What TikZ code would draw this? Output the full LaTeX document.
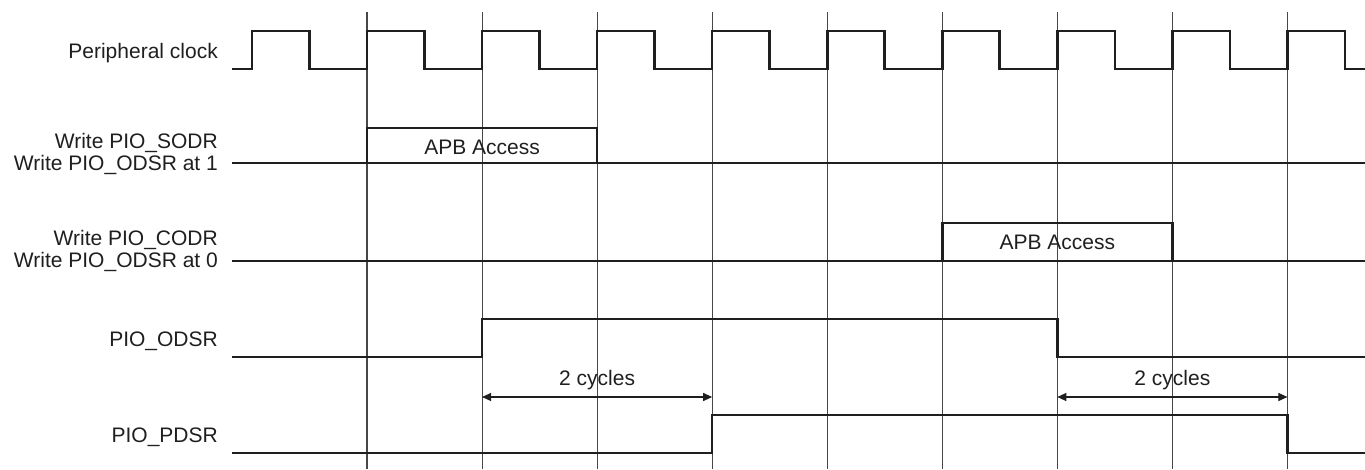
\documentclass[tikz,border=0pt]{standalone}
\usepackage{fontspec}
\setmainfont{Liberation Sans}
\usetikzlibrary{arrows.meta}
\begin{document}
\begin{tikzpicture}[x=1pt,y=-1pt,
  sig/.style={line width=2.6pt,color=black!88,line join=miter},
  grid/.style={line width=1.1pt,color=black!72},
  lbl/.style={anchor=east,inner sep=0pt,font=\fontsize{21}{25}\selectfont,text=black!88},
  txt/.style={inner sep=0pt,font=\fontsize{21}{25}\selectfont,text=black!88},
  dim/.style={line width=1.1pt,color=black!88,{Triangle[length=9pt,width=8pt]}-{Triangle[length=9pt,width=8pt]}}]
\useasboundingbox (0,0) rectangle (1365,469);
\def\P{115.05}
% grid lines
\foreach \k in {0,...,8}{
  \draw[grid] ({367+\k*\P},12) -- ({367+\k*\P},469);
}
% labels
\node[lbl] (lclk) at (218,53) {Peripheral clock};
\node[lbl] (lsodr) at (218,143) {Write PIO\_SODR};
\node[lbl] (lsodr1) at (218,165) {Write PIO\_ODSR at 1};
\node[lbl] (lcodr) at (218,240) {Write PIO\_CODR};
\node[lbl] (lcodr0) at (218,262) {Write PIO\_ODSR at 0};
\node[lbl] (lodsr) at (218,341) {PIO\_ODSR};
\node[lbl] (lpdsr) at (218,437) {PIO\_PDSR};
% clock
\draw[sig] (232,69)
  \foreach \k in {-1,...,7}{
    -- ({367+\k*\P},69) -- ({367+\k*\P},31) -- ({367+\k*\P+57.5},31) -- ({367+\k*\P+57.5},69)
  } -- ({367+8*\P},69) -- ({367+8*\P},31) -- ({367+8*\P+57.5},31) -- ({367+8*\P+57.5},69) -- (1365,69);
% SODR
\draw[sig] (232,163) -- (1365,163);
\draw[sig] (367,163) -- (367,128) -- ({367+2*\P},128) -- ({367+2*\P},163);
\node[txt] (apb1) at ({367+\P},147) {APB Access};
% CODR
\draw[sig] (232,261) -- (1365,261);
\draw[sig] ({367+5*\P},261) -- ({367+5*\P},223) -- ({367+7*\P},223) -- ({367+7*\P},261);
\node[txt] (apb2) at ({367+6*\P},242) {APB Access};
% ODSR
\draw[sig] (232,357) -- ({367+\P},357) -- ({367+\P},319) -- ({367+6*\P},319) -- ({367+6*\P},357) -- (1365,357);
% PDSR
\draw[sig] (232,453) -- ({367+3*\P},453) -- ({367+3*\P},415) -- ({367+8*\P},415) -- ({367+8*\P},453) -- (1365,453);
% dimension arrows
\coordinate (a1) at ({367+\P},397);
\coordinate (b1) at ({367+3*\P},397);
\coordinate (a2) at ({367+6*\P},397);
\coordinate (b2) at ({367+8*\P},397);
\draw[dim] (a1) -- (b1);
\draw[dim] (a2) -- (b2);
\node[txt] (c1) at ({367+2*\P},380) {2 cycles};
\node[txt] (c2) at ({367+7*\P},380) {2 cycles};
\end{tikzpicture}
\end{document}
